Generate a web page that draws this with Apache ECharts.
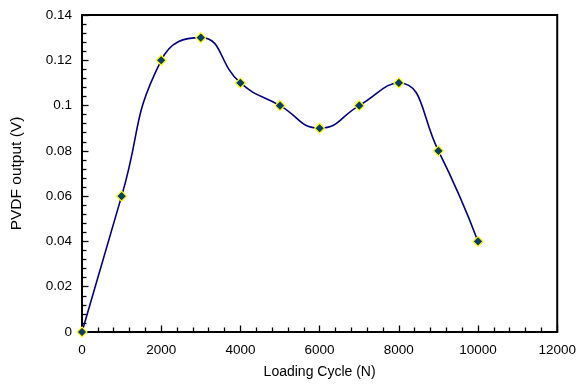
<!DOCTYPE html>
<html><head><meta charset="utf-8">
<script src="https://cdn.jsdelivr.net/npm/echarts@6/dist/echarts.min.js"></script>
<style>html,body{margin:0;padding:0;background:#fff}#c{width:579px;height:385px}</style>
</head><body><div id="c"></div>
<script>
const cycles = [0, 1000, 2000, 3000, 4000, 5000, 6000, 7000, 8000, 9000, 10000];
const output = [0, 0.06, 0.12, 0.13, 0.11, 0.10, 0.09, 0.10, 0.11, 0.08, 0.04];
const xTicks = {min: 0, max: 12000, interval: 2000};
const yTicks = {min: 0, max: 0.14, interval: 0.02};

const chart = echarts.init(document.getElementById('c'), null, {renderer: 'canvas'});
const font = 'Liberation Sans, Arial, sans-serif';
function axisBase() {
  return {
    axisLine: {show: true, onZero: false, lineStyle: {color: '#000', width: 2}},
    axisTick: {show: true, inside: true, length: 6.5, lineStyle: {color: '#000', width: 1.3}},
    minorTick: {show: true, splitNumber: 5, length: 4.5, lineStyle: {color: '#000', width: 1.3}},
    splitLine: {show: false},
    minorSplitLine: {show: false}
  };
}
chart.setOption({
  animation: false,
  backgroundColor: '#fff',
  grid: {left: 82, right: 21, top: 15, bottom: 53, show: true, borderColor: '#000', borderWidth: 2, backgroundColor: 'transparent', z: 0},
  xAxis: Object.assign(axisBase(), {
    type: 'value', min: xTicks.min, max: xTicks.max, interval: xTicks.interval,
    name: 'Loading Cycle (N)', nameLocation: 'middle', nameGap: 33,
    nameTextStyle: {color: '#000', fontFamily: font, fontSize: 14},
    axisLabel: {color: '#000', fontFamily: font, fontSize: 13.5, margin: 11, formatter: v => String(v)}
  }),
  yAxis: Object.assign(axisBase(), {
    type: 'value', min: yTicks.min, max: yTicks.max, interval: yTicks.interval,
    name: 'PVDF output (V)', nameLocation: 'middle', nameGap: 57,
    nameTextStyle: {color: '#000', fontFamily: font, fontSize: 15.5},
    axisLabel: {color: '#000', fontFamily: font, fontSize: 13.5, margin: 10, formatter: v => String(+v.toFixed(2))}
  }),
  series: [{
    type: 'line',
    data: cycles.map((c, i) => [c, output[i]]),
    smooth: 0.5,
    lineStyle: {color: '#000080', width: 1.6},
    symbol: 'diamond', symbolSize: 10,
    itemStyle: {color: '#0a3d6b', borderColor: '#ffff00', borderWidth: 1.2},
    clip: false
  }]
});
</script></body></html>
